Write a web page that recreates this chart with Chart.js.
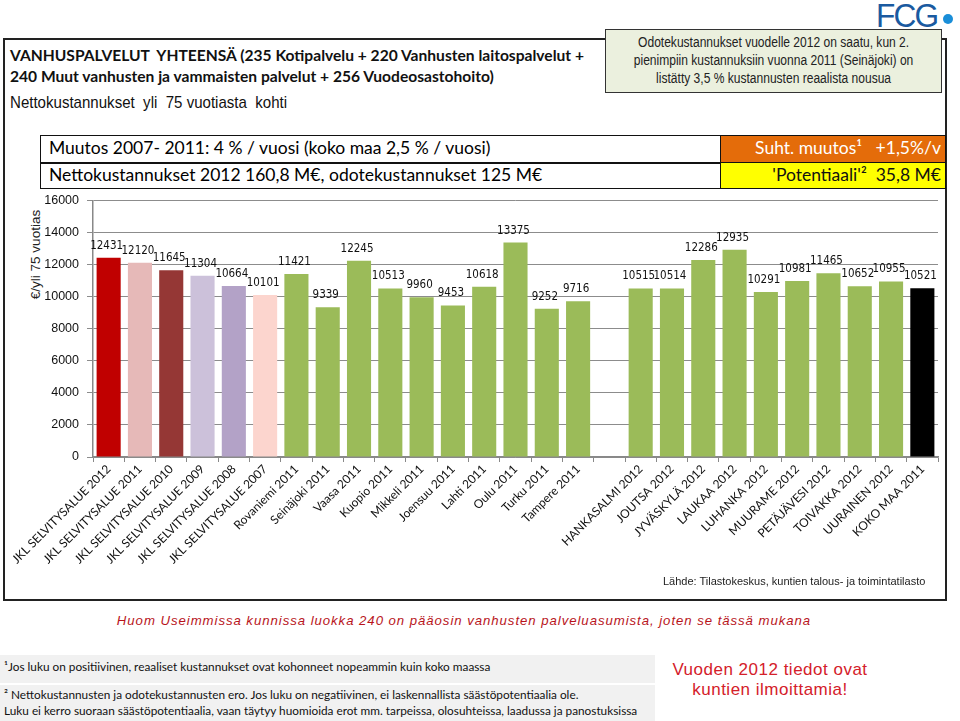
<!DOCTYPE html>
<html>
<head>
<meta charset="utf-8">
<script src="https://cdn.jsdelivr.net/npm/chart.js@4.4.0/dist/chart.umd.min.js"></script>
<style>
  body { margin:0; width:960px; height:721px; overflow:hidden; background:#fff; font-family:"Liberation Sans", Arial, sans-serif; }
  .abs { position:absolute; }
  .narrow { display:inline-block; transform:scaleX(0.86); transform-origin:left center; white-space:nowrap; }
  #frame { left:3px; top:38px; width:940px; height:559px; border:2px solid #222; }
  #logo { left:876px; top:-4px; font-family:"Liberation Sans", sans-serif; font-size:34px; color:#1a5aa0; letter-spacing:-2px; transform:scaleX(0.93); transform-origin:left; }
  #dot { left:943px; top:14px; width:10px; height:10px; border-radius:50%; background:#1a8ed8; }
  #title { left:10px; top:45px; font-family:Lato, sans-serif; font-weight:bold; font-size:15.6px; line-height:21px; color:#111; }
  #sub { left:10px; top:94px; font-size:15.7px; color:#111; transform:scaleX(0.96); transform-origin:left; }
  #note { left:605px; top:29px; width:337px; height:64px; background:#ebf0de; border:1.5px solid #333; text-align:center;
          font-size:14px; line-height:18px; color:#222; padding-top:3px; box-sizing:border-box; }
  #note .narrow { transform-origin:center; }
  .cell { position:absolute; border:1.5px solid #111; box-sizing:border-box; font-family:Lato, sans-serif; font-size:17.5px; line-height:24px; white-space:nowrap; }
  #ytitle { left:-25px; top:247px; width:120px; text-align:center; transform:rotate(-90deg); font-size:13.5px; color:#222; }
  #src { left:663px; top:575px; font-size:11px; color:#222; }
  #huom { left:-9px; width:946px; top:613px; text-align:center; font-style:italic; color:#b8141b; font-size:13.2px; letter-spacing:0.95px; }
  .foot { position:absolute; left:0; width:655px; background:#f1f1f1; font-family:Lato, sans-serif; font-size:11.8px; color:#111; padding-left:4px; box-sizing:border-box; white-space:nowrap; }
  #vuoden { left:660px; width:220px; top:660px; text-align:center; color:#d4202a; font-size:17px; line-height:20px; letter-spacing:0.5px; }
  #wrap { left:0; top:185px; width:946px; height:415px; }
</style>
</head>
<body>
<div id="frame" class="abs"></div>
<div id="logo" class="abs">FCG</div>
<div id="dot" class="abs"></div>
<div id="title" class="abs">VANHUSPALVELUT&nbsp; YHTEENSÄ (235 Kotipalvelu + 220 Vanhusten laitospalvelut +<br>240 Muut vanhusten ja vammaisten palvelut + 256 Vuodeosastohoito)</div>
<div id="sub" class="abs">Nettokustannukset&nbsp; yli&nbsp; 75 vuotiasta&nbsp; kohti</div>
<div id="note" class="abs"><span class="narrow">Odotekustannukset vuodelle 2012 on saatu, kun 2.</span><br><span class="narrow">pienimpiin kustannuksiin vuonna 2011 (Seinäjoki) on</span><br><span class="narrow">listätty 3,5 % kustannusten reaalista nousua</span></div>

<div class="cell" style="left:40px;top:135px;width:682px;height:29px;padding-left:8px;">Muutos 2007- 2011: 4 % / vuosi (koko maa 2,5 % / vuosi)</div>
<div class="cell" style="left:40px;top:162px;width:682px;height:27px;padding-left:8px;">Nettokustannukset 2012 160,8 M€, odotekustannukset 125 M€</div>
<div class="cell" style="left:720px;top:135px;width:226px;height:29px;background:#e46c0a;color:#fff;text-align:right;padding-right:4px;">Suht. muutos¹&nbsp;&nbsp; +1,5%/v</div>
<div class="cell" style="left:720px;top:162px;width:226px;height:27px;background:#ffff00;color:#111;text-align:right;padding-right:4px;">'Potentiaali'²&nbsp; 35,8 M€</div>

<div id="ytitle" class="abs">€/yli 75 vuotias</div>
<div id="wrap" class="abs"><canvas id="costChart"></canvas></div>
<div id="src" class="abs">Lähde: Tilastokeskus, kuntien talous- ja toimintatilasto</div>

<div id="huom" class="abs">Huom Useimmissa kunnissa luokka 240 on pääosin vanhusten palveluasumista, joten se tässä mukana</div>
<div class="foot" style="top:655px;height:28px;line-height:24px;">¹Jos luku on positiivinen, reaaliset kustannukset ovat kohonneet nopeammin kuin koko maassa</div>
<div class="foot" style="top:685px;height:36px;line-height:16px;padding-top:2px;">² Nettokustannusten ja odotekustannusten ero. Jos luku on negatiivinen, ei laskennallista säästöpotentiaalia ole.<br>Luku ei kerro suoraan säästöpotentiaalia, vaan täytyy huomioida erot mm. tarpeissa, olosuhteissa, laadussa ja panostuksissa</div>
<div id="vuoden" class="abs">Vuoden 2012 tiedot ovat<br>kuntien ilmoittamia!</div>

<script>
const municipalities = ['JKL SELVITYSALUE 2012', 'JKL SELVITYSALUE 2011', 'JKL SELVITYSALUE 2010', 'JKL SELVITYSALUE 2009',
  'JKL SELVITYSALUE 2008', 'JKL SELVITYSALUE 2007', 'Rovaniemi 2011', 'Seinäjoki 2011', 'Vaasa 2011', 'Kuopio 2011',
  'Mikkeli 2011', 'Joensuu 2011', 'Lahti 2011', 'Oulu 2011', 'Turku 2011', 'Tampere 2011', '',
  'HANKASALMI 2012', 'JOUTSA 2012', 'JYVÄSKYLÄ 2012', 'LAUKAA 2012', 'LUHANKA 2012', 'MUURAME 2012',
  'PETÄJÄVESI 2012', 'TOIVAKKA 2012', 'UURAINEN 2012', 'KOKO MAA 2011'];
const costPerPerson = [12431, 12120, 11645, 11304, 10664, 10101, 11421, 9339, 12245, 10513,
  9960, 9453, 10618, 13375, 9252, 9716, null,
  10515, 10514, 12286, 12935, 10291, 10981, 11465, 10652, 10955, 10521];
const barColors = ['#c00000', '#e6b9b8', '#953735', '#ccc1da', '#b3a2c7', '#fcd5ce',
  '#9bbb59', '#9bbb59', '#9bbb59', '#9bbb59', '#9bbb59', '#9bbb59', '#9bbb59', '#9bbb59', '#9bbb59', '#9bbb59', '#9bbb59',
  '#9bbb59', '#9bbb59', '#9bbb59', '#9bbb59', '#9bbb59', '#9bbb59', '#9bbb59', '#9bbb59', '#9bbb59', '#000000'];
const yTicks = [0, 2000, 4000, 6000, 8000, 10000, 12000, 14000, 16000];

// value labels above the bars
const valueLabels = {
  id: 'valueLabels',
  afterDatasetsDraw(chart) {
    const ctx = chart.ctx;
    const meta = chart.getDatasetMeta(0);
    ctx.save();
    ctx.font = '11.5px "DejaVu Sans Condensed", "Liberation Sans", sans-serif';
    ctx.fillStyle = '#111';
    ctx.textAlign = 'center';
    ctx.textBaseline = 'middle';
    meta.data.forEach((bar, i) => {
      const v = costPerPerson[i];
      if (v == null) return;
      ctx.fillText(String(v), bar.x - 2, bar.y - 12);
    });
    ctx.restore();
  }
};

new Chart(document.getElementById('costChart'), {
  type: 'bar',
  data: {
    labels: municipalities,
    datasets: [{
      data: costPerPerson,
      backgroundColor: barColors,
      barPercentage: 0.77,
      categoryPercentage: 1
    }]
  },
  options: {
    responsive: true,
    maintainAspectRatio: false,
    animation: false,
    layout: { padding: { top: 10, right: 8, left: 0, bottom: 0 } },
    plugins: { legend: { display: false }, tooltip: { enabled: false } },
    scales: {
      x: {
        afterFit(scale) { scale.height = 143; },
        grid: { drawOnChartArea: false, drawTicks: true, tickLength: 5, color: '#888' },
        border: { color: '#888', width: 1.5 },
        ticks: {
          autoSkip: false, maxRotation: 45, minRotation: 45, padding: 0,
          color: '#111',
          font: { family: 'Lato', size: 12 }
        }
      },
      y: {
        min: 0, max: 16000,
        afterFit(scale) { scale.width = 93; },
        afterBuildTicks(scale) { scale.ticks = yTicks.map(v => ({ value: v })); },
        grid: { color: '#8c8c8c', lineWidth: 1, tickLength: 6 },
        border: { color: '#888', width: 1.5 },
        ticks: {
          color: '#111', padding: 8,
          font: { family: 'Liberation Sans', size: 12.5 },
          callback: v => String(v)
        }
      }
    }
  },
  plugins: [valueLabels]
});
</script>
</body>
</html>
